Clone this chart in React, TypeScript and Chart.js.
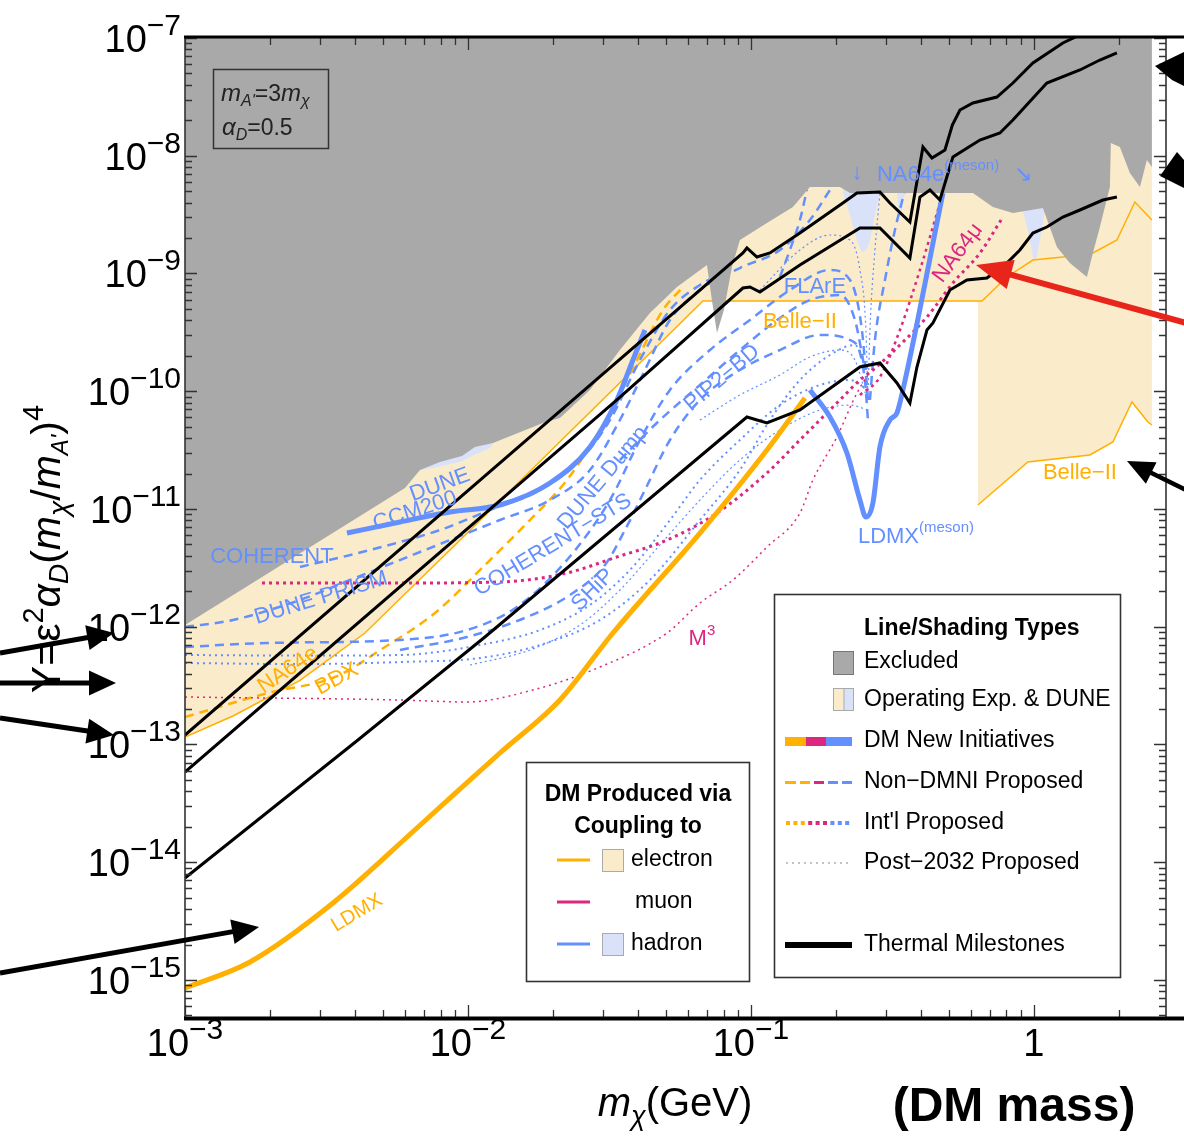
import React, { useEffect, useRef } from 'react';
import { Chart, registerables } from 'chart.js';

Chart.register(...registerables);

const FONT = '"Liberation Sans", Arimo, Arial, sans-serif';
const BLUE = '#648FFF';
const PINK = '#DC267F';
const ORANGE = '#FFB000';
const GRAY = '#A9A9A9';
const BEIGE = 'rgb(250,235,202)';
const LBLUE = 'rgb(218,226,250)';

const X_MIN = 1e-3;
const X_MAX = 2.93;
const Y_MIN = 4.85e-16;
const Y_MAX = 1e-7;
const X_DECADES = [-3, -2, -1, 0];
const Y_DECADES = [-7, -8, -9, -10, -11, -12, -13, -14, -15];

// Excluded (gray) lower boundary
const GRAY_X = [1e-3, 5.99e-3, 6.767e-3, 7.962e-3, 9.524e-3, 1.058e-2, 1.226e-2, 1.841e-2, 2.113e-2, 2.698e-2, 3.443e-2, 4.395e-2, 5.476e-2, 6.992e-2, 7.278e-2, 7.586e-2, 8.027e-2, 8.568e-2, 9.141e-2, 0.1139, 0.1407, 0.1616, 0.2063, 0.2239, 0.6089, 0.7161, 0.843, 1.076, 1.206, 1.34, 1.539, 1.616, 1.711, 1.856, 1.87, 2.013, 2.184, 2.37, 2.508, 2.612];
const GRAY_Y = [1.035e-12, 1.508e-11, 2.144e-11, 2.507e-11, 2.818e-11, 3.36e-11, 3.635e-11, 5.374e-11, 5.93e-11, 1.025e-10, 2.239e-10, 4.617e-10, 7.68e-10, 1.181e-9, 5.955e-10, 3.125e-10, 4.898e-10, 1.136e-9, 1.926e-9, 2.685e-9, 3.671e-9, 5.427e-9, 5.427e-9, 4.827e-9, 4.827e-9, 3.671e-9, 3.264e-9, 3.6e-9, 1.679e-9, 1.228e-9, 9.34e-10, 1.493e-9, 2.482e-9, 5.427e-9, 1.283e-8, 1.187e-8, 7.137e-9, 5.427e-9, 9.2e-9, 8.03e-9];

// Operating experiments (beige) lower boundary
const BEIGE_X = [1e-3, 1.478e-3, 2.549e-3, 4.325e-3, 8.637e-3, 6.767e-2, 0.6341, 0.6341, 0.9524, 1.577, 1.902, 2.22, 2.528, 2.612];
const BEIGE_Y = [1.158e-13, 1.746e-13, 3.5e-13, 8.85e-13, 4.485e-12, 5.84e-10, 5.84e-10, 1.081e-11, 2.507e-11, 2.874e-11, 3.707e-11, 8.1e-11, 5.48e-11, 5.17e-11];

// Hadron operating regions (light blue)
const LB1_X = [6.767e-3, 7.962e-3, 9.524e-3, 1.058e-2, 1.196e-2, 1.226e-2];
const LB1_Y = [2.144e-11, 2.3e-11, 2.55e-11, 2.9e-11, 3.3e-11, 3.635e-11];
const LB2_X = [0.2113, 0.2239, 0.2369, 0.2488, 0.2634, 0.2743, 0.2857];
const LB2_Y = [4.827e-9, 3.139e-9, 1.926e-9, 1.523e-9, 1.926e-9, 3.139e-9, 4.827e-9];
const LB3_X = [0.3281, 0.3362, 0.3501];
const LB3_Y = [4.827e-9, 3.018e-9, 4.827e-9];
const LB4_X = [0.9143, 0.96, 1.008, 1.058, 1.094];
const LB4_Y = [3.4e-9, 2.123e-9, 1.302e-9, 2.123e-9, 3.4e-9];

// NA64e + Belle-II (orange thin solid)
const NA64E_X = [1e-3, 1.478e-3, 2.549e-3, 4.325e-3, 8.637e-3, 6.767e-2, 0.6551, 0.8027, 0.992, 1.266, 1.616, 1.965, 2.275, 2.612];
const NA64E_Y = [1.158e-13, 1.746e-13, 3.5e-13, 8.85e-13, 4.485e-12, 5.84e-10, 5.84e-10, 9.34e-10, 1.302e-9, 1.38e-9, 1.493e-9, 1.926e-9, 4.048e-9, 2.848e-9];
const BELLE_LOW_X = [0.6341, 0.9524, 1.577, 1.902, 2.22, 2.528, 2.612];
const BELLE_LOW_Y = [1.081e-11, 2.507e-11, 2.874e-11, 3.707e-11, 8.1e-11, 5.48e-11, 5.17e-11];

// Thermal milestones
const TH1_X = [1e-3, 2.35e-2, 9.37e-2, 9.68e-2, 0.105, 0.1167, 0.149, 0.2113, 0.2369, 0.2857, 0.3099, 0.3646, 0.4054, 0.4362, 0.4849, 0.515, 0.5478, 0.6089, 0.7401, 0.843, 0.992, 1.266, 1.577];
const TH1_Y = [1.204e-13, 8.43e-11, 1.493e-9, 1.647e-9, 1.38e-9, 1.493e-9, 2.207e-9, 3.97e-9, 4.827e-9, 4.922e-9, 3.97e-9, 2.738e-9, 1.187e-8, 9.57e-9, 1.119e-8, 1.825e-8, 2.446e-8, 2.805e-8, 3.154e-8, 4.147e-8, 6.13e-8, 9.07e-8, 1.169e-7];
const TH2_X = [1e-3, 3.36e-2, 9.37e-2, 9.92e-2, 0.1076, 0.149, 0.2428, 0.2857, 0.3646, 0.3956, 0.4292, 0.4654, 0.5174, 0.6446, 0.7585, 0.843, 1.111, 1.454, 1.711, 1.965];
const TH2_Y = [5.84e-14, 8.43e-11, 7.53e-10, 7.68e-10, 6.965e-10, 1.181e-9, 2.434e-9, 2.434e-9, 1.354e-9, 4.463e-9, 5.118e-9, 4.208e-9, 9.76e-9, 1.361e-8, 1.561e-8, 2.012e-8, 4.147e-8, 5.35e-8, 6.5e-8, 7.46e-8];
const TH3_X = [1e-3, 4.085e-3, 1.148e-2, 9.68e-2, 0.1139, 0.149, 0.2428, 0.2857, 0.3281, 0.3646, 0.3861, 0.4188, 0.4398, 0.5049, 0.5799, 0.6822, 0.8027, 0.8923, 0.992, 1.111, 1.266, 1.454, 1.753, 1.965];
const TH3_Y = [7.35e-15, 1.092e-13, 8.18e-13, 6.04e-11, 5.374e-11, 6.93e-11, 1.606e-10, 1.737e-10, 1.175e-10, 7.95e-11, 1.606e-10, 3.313e-10, 3.8e-10, 7.24e-10, 8.81e-10, 9.16e-10, 1.228e-9, 1.584e-9, 2.207e-9, 2.482e-9, 3.018e-9, 3.462e-9, 4.208e-9, 4.463e-9];

// DMNI thick lines
const LDMX_X = [1e-3, 1.697e-3, 3.334e-3, 6.604e-3, 1.297e-2, 2.113e-2, 3.253e-2, 6.604e-2, 0.1139, 0.1552];
const LDMX_Y = [8.55e-16, 1.422e-15, 4.507e-15, 1.954e-14, 8.47e-14, 2.387e-13, 8.85e-13, 6.25e-12, 3.17e-11, 8.77e-11];
const LDMXM_X = [0.1616, 0.1902, 0.2184, 0.2428, 0.2549, 0.2698, 0.2857, 0.3099, 0.3281, 0.3444, 0.477];
const LDMXM_Y = [1.025e-10, 6.04e-11, 2.99e-11, 1.192e-11, 8.55e-12, 1.125e-11, 3.36e-11, 5.7e-11, 6.54e-11, 1.025e-10, 4.827e-9];
const CCM_X = [3.736e-3, 5.751e-3, 8.637e-3, 1.297e-2, 1.949e-2, 2.698e-2, 3.36e-2, 3.828e-2, 4.221e-2];
const CCM_Y = [6.25e-12, 7.76e-12, 9.43e-12, 1.081e-11, 1.663e-11, 3.36e-11, 8.43e-11, 1.842e-10, 3.313e-10];

// Blue dashed (non-DMNI proposed)
const D1_X = [1e-3, 1.478e-3, 2.549e-3, 3.828e-3, 5.751e-3, 8.637e-3, 1.297e-2, 1.949e-2, 2.698e-2, 3.443e-2, 4.221e-2, 5.174e-2, 6.604e-2, 9.141e-2, 0.1266, 0.1616, 0.1902];
const D1_Y = [9.95e-13, 1.141e-12, 1.688e-12, 2.495e-12, 3.688e-12, 5.45e-12, 8.06e-12, 1.192e-11, 2.144e-11, 5.7e-11, 1.515e-10, 4.029e-10, 7.24e-10, 1.113e-9, 1.584e-9, 2.848e-9, 5.118e-9];
const D2_X = [2.549e-3, 4.505e-3, 7.962e-3, 1.196e-2, 1.797e-2, 2.488e-2, 3.175e-2, 4.053e-2, 5.174e-2, 6.604e-2, 8.43e-2];
const D2_Y = [3.217e-12, 4.485e-12, 6.63e-12, 9.8e-12, 1.45e-11, 2.607e-11, 5.7e-11, 1.842e-10, 4.898e-10, 7.99e-10, 1.071e-9];
const D3_X = [1e-3, 1.949e-3, 5.751e-3, 9.92e-3, 1.49e-2, 2.238e-2, 3.175e-2, 4.053e-2, 5.174e-2, 7.165e-2, 9.92e-2, 0.1373, 0.1902, 0.2239, 0.2467, 0.2591];
const D3_Y = [6.73e-13, 7.28e-13, 7.72e-13, 9.38e-13, 1.472e-12, 3.688e-12, 1.192e-11, 3.855e-11, 1.025e-10, 2.239e-10, 4.029e-10, 7.24e-10, 1.071e-9, 8.81e-10, 3.313e-10, 8.43e-11];
const D4_X = [5.751e-3, 9.92e-3, 1.616e-2, 2.293e-2, 3.049e-2, 3.587e-2, 4.221e-2, 5.174e-2, 6.604e-2, 9.141e-2, 0.1266, 0.1753, 0.2239, 0.2528, 0.2591];
const D4_Y = [6.35e-13, 8.18e-13, 1.21e-12, 1.861e-12, 3.345e-12, 6.63e-12, 1.45e-11, 3.855e-11, 8.43e-11, 1.515e-10, 2.239e-10, 3.004e-10, 2.724e-10, 1.246e-10, 5.7e-11];
const D5_X = [3.443e-2, 4.77e-2, 6.604e-2, 9.141e-2, 0.1266, 0.1616, 0.2063, 0.2331, 0.2528];
const D5_Y = [2.607e-11, 5.7e-11, 1.13e-10, 2.239e-10, 4.19e-10, 5.955e-10, 6.57e-10, 4.029e-10, 1.515e-10];
const D6_X = [0.1266, 0.1373, 0.149, 0.1577];
const D6_Y = [9.34e-10, 1.584e-9, 2.848e-9, 5.118e-9];
const D7_X = [0.2634, 0.2743, 0.2976, 0.3228, 0.3501];
const D7_Y = [8.43e-11, 2.724e-10, 8.81e-10, 2.341e-9, 5.118e-9];

// Blue dotted (international proposed)
const T1_X = [1e-3, 2.549e-3, 5.751e-3, 1.103e-2, 1.797e-2, 2.698e-2, 3.736e-2, 5.174e-2, 6.604e-2, 9.141e-2, 0.1266, 0.1753, 0.2239, 0.2591];
const T1_Y = [5.755e-13, 5.69e-13, 5.755e-13, 7.0e-13, 9.38e-13, 1.53e-12, 3.034e-12, 8.06e-12, 1.763e-11, 3.855e-11, 7.64e-11, 1.13e-10, 1.246e-10, 1.025e-10];
const T2_X = [1e-3, 2.549e-3, 5.751e-3, 1.103e-2, 1.797e-2, 2.927e-2, 4.395e-2, 6.604e-2, 9.141e-2, 0.1167, 0.149, 0.1902, 0.2331, 0.2591];
const T2_Y = [4.92e-13, 4.82e-13, 5.017e-13, 5.427e-13, 7.0e-13, 1.141e-12, 2.495e-12, 8.06e-12, 2.144e-11, 5.7e-11, 1.246e-10, 2.032e-10, 2.47e-10, 1.515e-10];

// Blue thin dotted (post-2032)
const U1_X = [0.1076, 0.149, 0.1902, 0.2239, 0.2428, 0.2549, 0.2591];
const U1_Y = [7.24e-10, 1.584e-9, 2.123e-9, 1.926e-9, 1.071e-9, 3.313e-10, 8.43e-11];
const U2_X = [0.2591, 0.2634, 0.2743, 0.2857];
const U2_Y = [8.43e-11, 3.313e-10, 1.584e-9, 4.827e-9];
const U3_X = [6.604e-2, 9.141e-2, 0.1266, 0.1616, 0.2063, 0.2331, 0.2549];
const U3_Y = [5.7e-11, 9.29e-11, 1.374e-10, 1.954e-10, 2.239e-10, 1.842e-10, 9.29e-11];
const U4_X = [1.017e-2, 1.656e-2, 2.488e-2, 3.443e-2, 4.77e-2, 6.604e-2, 9.141e-2, 0.1266, 0.1753, 0.2239, 0.2591];
const U4_Y = [4.73e-13, 6.35e-13, 1.035e-12, 2.051e-12, 4.946e-12, 1.192e-11, 2.607e-11, 4.69e-11, 6.93e-11, 7.64e-11, 6.93e-11];

// Orange dashed (BDX)
const O1_X = [1e-3, 1.965e-3, 3.388e-3, 5.09e-3, 7.646e-3, 1.13e-2, 1.656e-2, 2.238e-2, 2.927e-2, 3.36e-2, 3.956e-2, 4.887e-2, 5.75e-2];
const O1_Y = [1.712e-13, 2.739e-13, 3.742e-13, 6.73e-13, 1.309e-12, 3.217e-12, 8.06e-12, 1.763e-11, 4.69e-11, 8.43e-11, 1.842e-10, 4.898e-10, 7.68e-10];

// Muon (pink) lines
const P1_X = [1.871e-3, 5.751e-3, 1.297e-2, 2.238e-2, 3.36e-2, 5.049e-2, 7.586e-2, 0.1139, 0.149, 0.2063, 0.2428, 0.2698, 0.3362, 0.4188, 0.5174, 0.6446, 0.7771];
const P1_Y = [2.352e-12, 2.352e-12, 2.399e-12, 2.861e-12, 3.912e-12, 5.45e-12, 9.25e-12, 2.021e-11, 3.855e-11, 8.43e-11, 1.246e-10, 1.515e-10, 2.47e-10, 4.271e-10, 8.31e-10, 1.493e-9, 3.018e-9];
const P2_X = [0.2428, 0.2857, 0.3362, 0.3956, 0.477];
const P2_Y = [9.29e-11, 1.321e-10, 3.313e-10, 1.071e-9, 4.827e-9];
const M3_X = [1e-3, 5.751e-3, 9.92e-3, 1.697e-2, 2.927e-2, 5.049e-2, 6.604e-2, 8.637e-2, 0.1139, 0.149, 0.1656, 0.2013, 0.2369, 0.2591];
const M3_Y = [2.532e-13, 2.387e-13, 2.296e-13, 2.903e-13, 4.55e-13, 8.85e-13, 1.59e-12, 2.495e-12, 4.756e-12, 9.25e-12, 1.763e-11, 4.09e-11, 9.66e-11, 1.374e-10];

// In-plot text labels (data coordinates)
const LABELS = [
  { t: 'COHERENT', x: 2.029e-3, y: 3.912e-12, a: 0, c: BLUE, s: 22 },
  { t: 'DUNE PRISM', x: 3.025e-3, y: 1.754e-12, a: -17, c: BLUE, s: 22 },
  { t: 'CCM200', x: 6.497e-3, y: 9.62e-12, a: -18, c: BLUE, s: 22 },
  { t: 'DUNE', x: 7.962e-3, y: 1.6e-11, a: -20, c: BLUE, s: 22 },
  { t: 'NA64e', x: 2.312e-3, y: 4.29e-13, a: -34, c: ORANGE, s: 22 },
  { t: 'BDX', x: 3.444e-3, y: 3.6e-13, a: -28, c: ORANGE, s: 22 },
  { t: 'COHERENT\u2212STS', x: 1.997e-2, y: 4.946e-12, a: -31, c: BLUE, s: 22 },
  { t: 'DUNE Dump', x: 3.0e-2, y: 1.834e-11, a: -50, c: BLUE, s: 22 },
  { t: 'SHiP', x: 2.765e-2, y: 2.051e-12, a: -45, c: BLUE, s: 22 },
  { t: 'PIP2\u2212BD', x: 7.9e-2, y: 1.296e-10, a: -40, c: BLUE, s: 22 },
  { t: 'FLArE', x: 0.1683, y: 7.68e-10, a: 0, c: BLUE, s: 22 },
  { t: 'Belle\u2212II', x: 0.149, y: 3.875e-10, a: 0, c: ORANGE, s: 22 },
  { t: 'NA64\u03bc', x: 0.5388, y: 1.493e-9, a: -53, c: PINK, s: 22 },
  { t: 'Belle\u2212II', x: 1.454, y: 2.021e-11, a: 0, c: ORANGE, s: 22 },
  { t: 'LDMX', x: 4.052e-3, y: 3.707e-15, a: -31, c: ORANGE, s: 20 },
];
const NA64E_MESON_POS = { x: 0.2787, y: 7.137e-9 };
const DOWN_ARROW_POS = { x: 0.2369, y: 7.137e-9 };
const DIAG_ARROW_POS = { x: 0.9143, y: 6.9e-9 };
const LDMX_MESON_POS = { x: 0.2388, y: 6.01e-12 };
const M3_POS = { x: 6.713e-2, y: 8.18e-13 };

// Annotation arrows drawn on top of the figure (page pixels)
const ARROWS = [
  { x1: 0, y1: 653, x2: 114, y2: 633, c: '#000', w: 5, hl: 27, hw: 25 },
  { x1: 0, y1: 683, x2: 116, y2: 683, c: '#000', w: 5, hl: 27, hw: 25 },
  { x1: 0, y1: 718, x2: 114, y2: 735, c: '#000', w: 5, hl: 27, hw: 25 },
  { x1: 0, y1: 973, x2: 259, y2: 927, c: '#000', w: 5, hl: 27, hw: 25 },
  { x1: 1190, y1: 324, x2: 976, y2: 265, c: '#E8251B', w: 6, hl: 36, hw: 30 },
  { x1: 1190, y1: 492, x2: 1127, y2: 461, c: '#000', w: 4.5, hl: 27, hw: 24 },
];

const pts = (xs: number[], ys: number[]) => xs.map((x, i) => ({ x, y: ys[i] }));

function line(xs: number[], ys: number[], color: string, width: number, dash: number[], order: number, smooth = true): any {
  return {
    data: pts(xs, ys), borderColor: color, borderWidth: width, borderDash: dash, pointRadius: 0,
    fill: false, order, tension: 0, cubicInterpolationMode: smooth ? 'monotone' : 'default', borderCapStyle: 'butt',
  };
}
function area(xs: number[], ys: number[], color: string, order: number, smooth = false): any {
  return {
    data: pts(xs, ys), borderWidth: 0, borderColor: 'rgba(0,0,0,0)', backgroundColor: color, fill: 'end',
    pointRadius: 0, order, tension: 0, cubicInterpolationMode: smooth ? 'monotone' : 'default',
  };
}

type Seg = { t: string; f: string; dy?: number };
function rich(ctx: CanvasRenderingContext2D, segs: Seg[], x: number, y: number, align: string) {
  let w = 0;
  for (const s of segs) { ctx.font = s.f; w += ctx.measureText(s.t).width; }
  let cx = align === 'center' ? x - w / 2 : align === 'right' ? x - w : x;
  ctx.textAlign = 'left';
  ctx.textBaseline = 'alphabetic';
  for (const s of segs) {
    ctx.font = s.f;
    ctx.fillText(s.t, cx, y + (s.dy || 0));
    cx += ctx.measureText(s.t).width;
  }
  return w;
}

function drawArrow(ctx: CanvasRenderingContext2D, a: any) {
  const ang = Math.atan2(a.y2 - a.y1, a.x2 - a.x1);
  const bx = a.x2 - a.hl * Math.cos(ang), by = a.y2 - a.hl * Math.sin(ang);
  ctx.strokeStyle = a.c; ctx.fillStyle = a.c; ctx.lineWidth = a.w; ctx.setLineDash([]);
  ctx.beginPath(); ctx.moveTo(a.x1, a.y1); ctx.lineTo(bx + Math.cos(ang) * 2, by + Math.sin(ang) * 2); ctx.stroke();
  const px = -Math.sin(ang) * a.hw / 2, py = Math.cos(ang) * a.hw / 2;
  ctx.beginPath(); ctx.moveTo(a.x2, a.y2); ctx.lineTo(bx + px, by + py); ctx.lineTo(bx - px, by - py); ctx.closePath(); ctx.fill();
}

const f = (size: number, style = '', weight = '') => `${style} ${weight} ${size}px ${FONT}`.trim();

const decor = {
  id: 'decor',
  afterDraw(chart: any) {
    const ctx: CanvasRenderingContext2D = chart.ctx;
    const xs = chart.scales.x, ys = chart.scales.y;
    const { left, right, top, bottom } = chart.chartArea;
    const X = (v: number) => xs.getPixelForValue(v);
    const Y = (v: number) => ys.getPixelForValue(v);
    ctx.save();

    // In-plot labels
    for (const L of LABELS) {
      ctx.save();
      ctx.translate(X(L.x), Y(L.y));
      ctx.rotate((L.a * Math.PI) / 180);
      ctx.fillStyle = L.c; ctx.font = f(L.s); ctx.textAlign = 'center'; ctx.textBaseline = 'middle';
      ctx.fillText(L.t, 0, 0);
      ctx.restore();
    }
    ctx.fillStyle = BLUE;
    ctx.font = f(22); ctx.textAlign = 'center'; ctx.textBaseline = 'middle';
    ctx.fillText('\u2193', X(DOWN_ARROW_POS.x), Y(DOWN_ARROW_POS.y));
    ctx.fillText('\u2198', X(DIAG_ARROW_POS.x), Y(DIAG_ARROW_POS.y));
    rich(ctx, [{ t: 'NA64e', f: f(22) }, { t: '(meson)', f: f(15), dy: -11 }], X(NA64E_MESON_POS.x), Y(NA64E_MESON_POS.y) + 8, 'left');
    rich(ctx, [{ t: 'LDMX', f: f(22) }, { t: '(meson)', f: f(15), dy: -11 }], X(LDMX_MESON_POS.x), Y(LDMX_MESON_POS.y) + 8, 'left');
    ctx.fillStyle = PINK;
    rich(ctx, [{ t: 'M', f: f(22) }, { t: '3', f: f(15), dy: -10 }], X(M3_POS.x), Y(M3_POS.y) + 8, 'center');

    // Ticks
    ctx.strokeStyle = '#333'; ctx.lineWidth = 1.3; ctx.setLineDash([]);
    ctx.beginPath();
    for (let d = -3; d <= 0; d++) {
      for (let m = 1; m <= 9; m++) {
        const v = m * Math.pow(10, d);
        if (v < X_MIN * 0.999 || v > X_MAX) continue;
        const px = Math.round(X(v)) + 0.5; const len = m === 1 ? 12 : 7;
        ctx.moveTo(px, bottom); ctx.lineTo(px, bottom - len);
        ctx.moveTo(px, top); ctx.lineTo(px, top + len);
      }
    }
    for (let d = -16; d <= -7; d++) {
      for (let m = 1; m <= 9; m++) {
        const v = m * Math.pow(10, d);
        if (v < Y_MIN || v > Y_MAX * 1.001) continue;
        const py = Math.round(Y(v)) + 0.5; const len = m === 1 ? 12 : 7;
        ctx.moveTo(left, py); ctx.lineTo(left + len, py);
        ctx.moveTo(right, py); ctx.lineTo(right - len, py);
      }
    }
    ctx.stroke();

    // Frame
    ctx.strokeStyle = '#333'; ctx.lineWidth = 1.6;
    ctx.beginPath(); ctx.moveTo(left, top); ctx.lineTo(left, bottom); ctx.moveTo(right, top); ctx.lineTo(right, bottom); ctx.stroke();
    ctx.strokeStyle = '#000'; ctx.lineWidth = 3;
    ctx.beginPath(); ctx.moveTo(left - 1, top - 1); ctx.lineTo(1184, top - 1); ctx.stroke();
    ctx.lineWidth = 4;
    ctx.beginPath(); ctx.moveTo(left - 1, bottom + 1.5); ctx.lineTo(1184, bottom + 1.5); ctx.stroke();

    // Tick labels
    ctx.fillStyle = '#000';
    for (const d of Y_DECADES) {
      const py = Y(Math.pow(10, d));
      rich(ctx, [{ t: '10', f: f(38) }, { t: '\u2212' + -d, f: f(30), dy: -17 }], 181, py + 14, 'right');
    }
    for (const d of X_DECADES) {
      const px = X(Math.pow(10, d));
      if (d === 0) rich(ctx, [{ t: '1', f: f(38) }], px, 1056, 'center');
      else rich(ctx, [{ t: '10', f: f(38) }, { t: '\u2212' + -d, f: f(30), dy: -17 }], px, 1056, 'center');
    }

    // Axis titles
    ctx.save();
    ctx.translate(60, 549);
    ctx.rotate(-Math.PI / 2);
    rich(ctx, [
      { t: 'Y=\u03b5', f: f(41) }, { t: '2', f: f(29), dy: -17 },
      { t: '\u03b1', f: f(41, 'italic') }, { t: 'D', f: f(28, 'italic'), dy: 8 },
      { t: '(', f: f(41) }, { t: 'm', f: f(41, 'italic') }, { t: '\u03c7', f: f(28, 'italic'), dy: 8 },
      { t: '/', f: f(41) }, { t: 'm', f: f(41, 'italic') }, { t: "A'", f: f(24, 'italic'), dy: 8 },
      { t: ')', f: f(41) }, { t: '4', f: f(29), dy: -17 },
    ], 0, 0, 'center');
    ctx.restore();
    rich(ctx, [{ t: 'm', f: f(40, 'italic') }, { t: '\u03c7', f: f(27, 'italic'), dy: 9 }, { t: '(GeV)', f: f(40) }], 675, 1116, 'center');
    rich(ctx, [{ t: '(DM mass)', f: f(48, '', 'bold') }], 1014, 1121, 'center');

    // Inset parameter box
    ctx.strokeStyle = '#333'; ctx.lineWidth = 1.5;
    ctx.strokeRect(213.5, 69.5, 115, 79);
    ctx.fillStyle = '#222';
    rich(ctx, [{ t: 'm', f: f(24, 'italic') }, { t: "A'", f: f(16, 'italic'), dy: 5 }, { t: '=3', f: f(23) }, { t: 'm', f: f(24, 'italic') }, { t: '\u03c7', f: f(16, 'italic'), dy: 5 }], 221, 101, 'left');
    rich(ctx, [{ t: '\u03b1', f: f(24, 'italic') }, { t: 'D', f: f(16, 'italic'), dy: 5 }, { t: '=0.5', f: f(23) }], 222, 135, 'left');

    // Legend 1
    ctx.fillStyle = '#fff'; ctx.fillRect(526, 762, 224, 220);
    ctx.strokeStyle = '#333'; ctx.lineWidth = 1.6; ctx.strokeRect(526.5, 762.5, 223, 219);
    ctx.fillStyle = '#000';
    ctx.font = f(23, '', 'bold'); ctx.textAlign = 'center'; ctx.textBaseline = 'middle';
    ctx.fillText('DM Produced via', 638, 795);
    ctx.fillText('Coupling to', 638, 827);
    ctx.font = f(23); ctx.textAlign = 'left';
    const l1 = [{ y: 860, c: ORANGE, sw: BEIGE, t: 'electron', tx: 631 }, { y: 902, c: PINK, sw: '', t: 'muon', tx: 635 }, { y: 944, c: BLUE, sw: LBLUE, t: 'hadron', tx: 631 }];
    for (const r of l1) {
      ctx.strokeStyle = r.c; ctx.lineWidth = 3; ctx.beginPath(); ctx.moveTo(557, r.y); ctx.lineTo(590, r.y); ctx.stroke();
      if (r.sw) { ctx.fillStyle = r.sw; ctx.fillRect(602, r.y - 11, 22, 23); ctx.strokeStyle = '#aaa'; ctx.lineWidth = 1; ctx.strokeRect(602.5, r.y - 10.5, 21, 22); }
      ctx.fillStyle = '#000'; ctx.fillText(r.t, r.tx, r.y);
    }

    // Legend 2
    ctx.fillStyle = '#fff'; ctx.fillRect(774, 594, 347, 384);
    ctx.strokeStyle = '#333'; ctx.lineWidth = 1.6; ctx.strokeRect(774.5, 594.5, 346, 383);
    ctx.fillStyle = '#000'; ctx.font = f(23, '', 'bold'); ctx.textAlign = 'left';
    ctx.fillText('Line/Shading Types', 864, 629);
    ctx.font = f(23);
    ctx.fillStyle = GRAY; ctx.fillRect(833, 651, 21, 24); ctx.strokeStyle = '#777'; ctx.lineWidth = 1; ctx.strokeRect(833.5, 651.5, 20, 23);
    ctx.fillStyle = BEIGE; ctx.fillRect(833, 688, 11, 23); ctx.fillStyle = LBLUE; ctx.fillRect(844, 688, 10, 23);
    ctx.strokeStyle = '#aaa'; ctx.strokeRect(833.5, 688.5, 20, 22); ctx.beginPath(); ctx.moveTo(844, 688); ctx.lineTo(844, 711); ctx.stroke();
    ctx.fillStyle = '#000';
    ctx.fillText('Excluded', 864, 662);
    ctx.fillText('Operating Exp. & DUNE', 864, 700);
    ctx.fillText('DM New Initiatives', 864, 741);
    ctx.fillText('Non\u2212DMNI Proposed', 864, 782);
    ctx.fillText("Int'l Proposed", 864, 823);
    ctx.fillText('Post\u22122032 Proposed', 864, 863);
    ctx.fillText('Thermal Milestones', 864, 945);
    const bar = [[785, 806, ORANGE], [806, 826, PINK], [826, 852, BLUE]];
    for (const b of bar) { ctx.fillStyle = b[2] as string; ctx.fillRect(b[0] as number, 737, (b[1] as number) - (b[0] as number), 9); }
    const dashes = [[785, 796, ORANGE], [800, 810, ORANGE], [814, 824, PINK], [828, 838, BLUE], [842, 852, BLUE]];
    for (const b of dashes) { ctx.fillStyle = b[2] as string; ctx.fillRect(b[0] as number, 781, (b[1] as number) - (b[0] as number), 3); }
    const dotCols = [ORANGE, ORANGE, ORANGE, PINK, PINK, PINK, BLUE, BLUE, BLUE];
    dotCols.forEach((c, i) => { ctx.fillStyle = c; ctx.fillRect(786 + i * 7.4, 821, 4, 4); });
    ctx.strokeStyle = '#888'; ctx.lineWidth = 1.2; ctx.setLineDash([2, 4]);
    ctx.beginPath(); ctx.moveTo(786, 863); ctx.lineTo(852, 863); ctx.stroke(); ctx.setLineDash([]);
    ctx.fillStyle = '#000'; ctx.fillRect(785, 942, 67, 6);

    // Annotations
    for (const a of ARROWS) drawArrow(ctx, a);
    ctx.fillStyle = '#000';
    ctx.beginPath(); ctx.moveTo(1155, 66); ctx.lineTo(1184, 52); ctx.lineTo(1184, 86); ctx.lineTo(1172, 80); ctx.closePath(); ctx.fill();
    ctx.beginPath(); ctx.moveTo(1160, 176); ctx.lineTo(1177, 152); ctx.lineTo(1184, 160); ctx.lineTo(1184, 188); ctx.closePath(); ctx.fill();

    ctx.restore();
  },
};

export default function App() {
  const ref = useRef<HTMLCanvasElement>(null);
  useEffect(() => {
    const datasets = [
      line(TH1_X, TH1_Y, '#000', 3, [], 0, false),
      line(TH2_X, TH2_Y, '#000', 3, [], 0, false),
      line(TH3_X, TH3_Y, '#000', 3, [], 0, false),
      area(GRAY_X, GRAY_Y, GRAY, 1),
      line(LDMX_X, LDMX_Y, ORANGE, 5, [], 2),
      line(LDMXM_X, LDMXM_Y, BLUE, 5, [], 2),
      line(CCM_X, CCM_Y, BLUE, 5, [], 2),
      line(P1_X, P1_Y, PINK, 3, [3, 4], 3),
      line(P2_X, P2_Y, PINK, 2.5, [3, 4], 3),
      line(M3_X, M3_Y, PINK, 1.5, [2, 4], 3),
      line(D1_X, D1_Y, BLUE, 2.5, [9, 6], 4),
      line(D2_X, D2_Y, BLUE, 2.5, [9, 6], 4),
      line(D3_X, D3_Y, BLUE, 2.5, [9, 6], 4),
      line(D4_X, D4_Y, BLUE, 2.5, [9, 6], 4),
      line(D5_X, D5_Y, BLUE, 2.5, [9, 6], 4),
      line(D6_X, D6_Y, BLUE, 2.5, [9, 6], 4),
      line(D7_X, D7_Y, BLUE, 2.5, [9, 6], 4),
      line(T1_X, T1_Y, BLUE, 2, [2, 4], 4),
      line(T2_X, T2_Y, BLUE, 2, [2, 4], 4),
      line(U1_X, U1_Y, BLUE, 1.2, [2, 3], 4),
      line(U2_X, U2_Y, BLUE, 1.2, [2, 3], 4),
      line(U3_X, U3_Y, BLUE, 1.2, [2, 3], 4),
      line(U4_X, U4_Y, BLUE, 1.2, [2, 3], 4),
      line(O1_X, O1_Y, ORANGE, 2.5, [9, 6], 4),
      line(NA64E_X, NA64E_Y, ORANGE, 1.5, [], 5, false),
      line(BELLE_LOW_X, BELLE_LOW_Y, ORANGE, 1.5, [], 5, false),
      area(LB1_X, LB1_Y, LBLUE, 7),
      area(LB2_X, LB2_Y, LBLUE, 7, true),
      area(LB3_X, LB3_Y, LBLUE, 7, true),
      area(LB4_X, LB4_Y, LBLUE, 7, true),
      area(BEIGE_X, BEIGE_Y, BEIGE, 8),
    ];
    const chart = new Chart(ref.current as HTMLCanvasElement, {
      type: 'line',
      data: { datasets },
      options: {
        responsive: false,
        animation: false,
        devicePixelRatio: 1,
        layout: { padding: { left: 185, right: 18, top: 38, bottom: 127 } },
        scales: {
          x: { type: 'logarithmic', min: X_MIN, max: X_MAX, display: false },
          y: { type: 'logarithmic', min: Y_MIN, max: Y_MAX, display: false },
        },
        plugins: { legend: { display: false }, tooltip: { enabled: false } },
        elements: { point: { radius: 0 } },
      },
      plugins: [decor],
    } as any);
    return () => chart.destroy();
  }, []);
  return (
    <div style={{ position: 'fixed', left: 0, top: 0, width: 1184, height: 1144, background: '#fff' }}>
      <canvas ref={ref} width={1184} height={1144} style={{ display: 'block', width: 1184, height: 1144 }} />
    </div>
  );
}
